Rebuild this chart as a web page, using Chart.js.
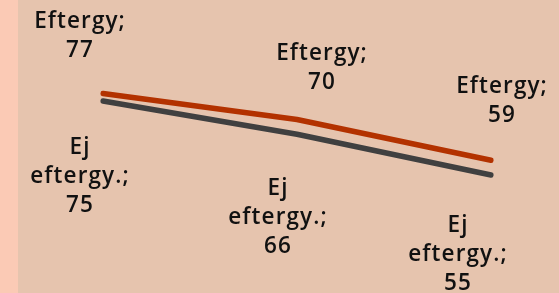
<!DOCTYPE html>
<html>
<head>
<meta charset="utf-8">
<script src="https://cdn.jsdelivr.net/npm/chart.js@4.4.1/dist/chart.umd.min.js"></script>
<style>
  html, body { margin: 0; padding: 0; background: #fbcab5; }
  #wrap { width: 559px; height: 293px; position: relative; }
</style>
</head>
<body>
<div id="wrap"><canvas id="c" width="559" height="293"></canvas></div>
<script>
const categories = ['1', '2', '3'];
const seriesNames = ['Eftergy', 'Ej eftergy.'];
const eftergyValues = [77, 70, 59];
const ejEftergyValues = [75, 66, 55];

// label styling: offsets of the label block centre from each point (px)
const labelOffsets = [
  [[-23, -58], [25, -51], [11, -59]],
  [[-23, 76], [-19, 83], [-33, 80]]
];

const bgPlugin = {
  id: 'bg',
  beforeDraw(chart) {
    const ctx = chart.ctx;
    ctx.save();
    ctx.fillStyle = '#fbcab5';
    ctx.fillRect(0, 0, chart.width, chart.height);
    ctx.fillStyle = '#e6c4ae';
    ctx.fillRect(18, 0, chart.width - 18, chart.height);
    ctx.restore();
  }
};

const labelPlugin = {
  id: 'pointLabels',
  afterDatasetsDraw(chart) {
    const ctx = chart.ctx;
    ctx.save();
    ctx.fillStyle = '#111111';
    ctx.font = '600 22.5px "Open Sans", sans-serif';
    try { ctx.letterSpacing = '1.1px'; } catch (e) {}
    ctx.textAlign = 'center';
    ctx.textBaseline = 'middle';
    const lh = 29;
    chart.data.datasets.forEach((ds, di) => {
      const meta = chart.getDatasetMeta(di);
      meta.data.forEach((pt, i) => {
        let lines;
        if (di === 0) lines = ['Eftergy;', String(ds.data[i])];
        else lines = ['Ej', 'eftergy.;', String(ds.data[i])];
        const off = labelOffsets[di][i];
        const cx = pt.x + off[0];
        const cy = pt.y + off[1];
        const top = cy - (lines.length - 1) * lh / 2;
        lines.forEach((t, k) => ctx.fillText(t, cx, top + k * lh));
      });
    });
    ctx.restore();
  }
};

new Chart(document.getElementById('c'), {
  type: 'line',
  data: {
    labels: categories,
    datasets: [
      {
        label: seriesNames[0],
        data: eftergyValues,
        borderColor: '#b33200',
        borderWidth: 5.5,
        borderCapStyle: 'round',
        borderJoinStyle: 'round',
        pointRadius: 0,
        tension: 0,
        fill: false
      },
      {
        label: seriesNames[1],
        data: ejEftergyValues,
        borderColor: '#404040',
        borderWidth: 5.5,
        borderCapStyle: 'round',
        borderJoinStyle: 'round',
        pointRadius: 0,
        tension: 0,
        fill: false
      }
    ]
  },
  options: {
    responsive: false,
    animation: false,
    layout: { padding: { left: 103, right: 68, top: 0, bottom: 0 } },
    plugins: { legend: { display: false }, tooltip: { enabled: false } },
    scales: {
      x: { display: false, offset: false },
      y: { display: false, min: 23.1, max: 102.3 }
    }
  },
  plugins: [bgPlugin, labelPlugin]
});
</script>
</body>
</html>
